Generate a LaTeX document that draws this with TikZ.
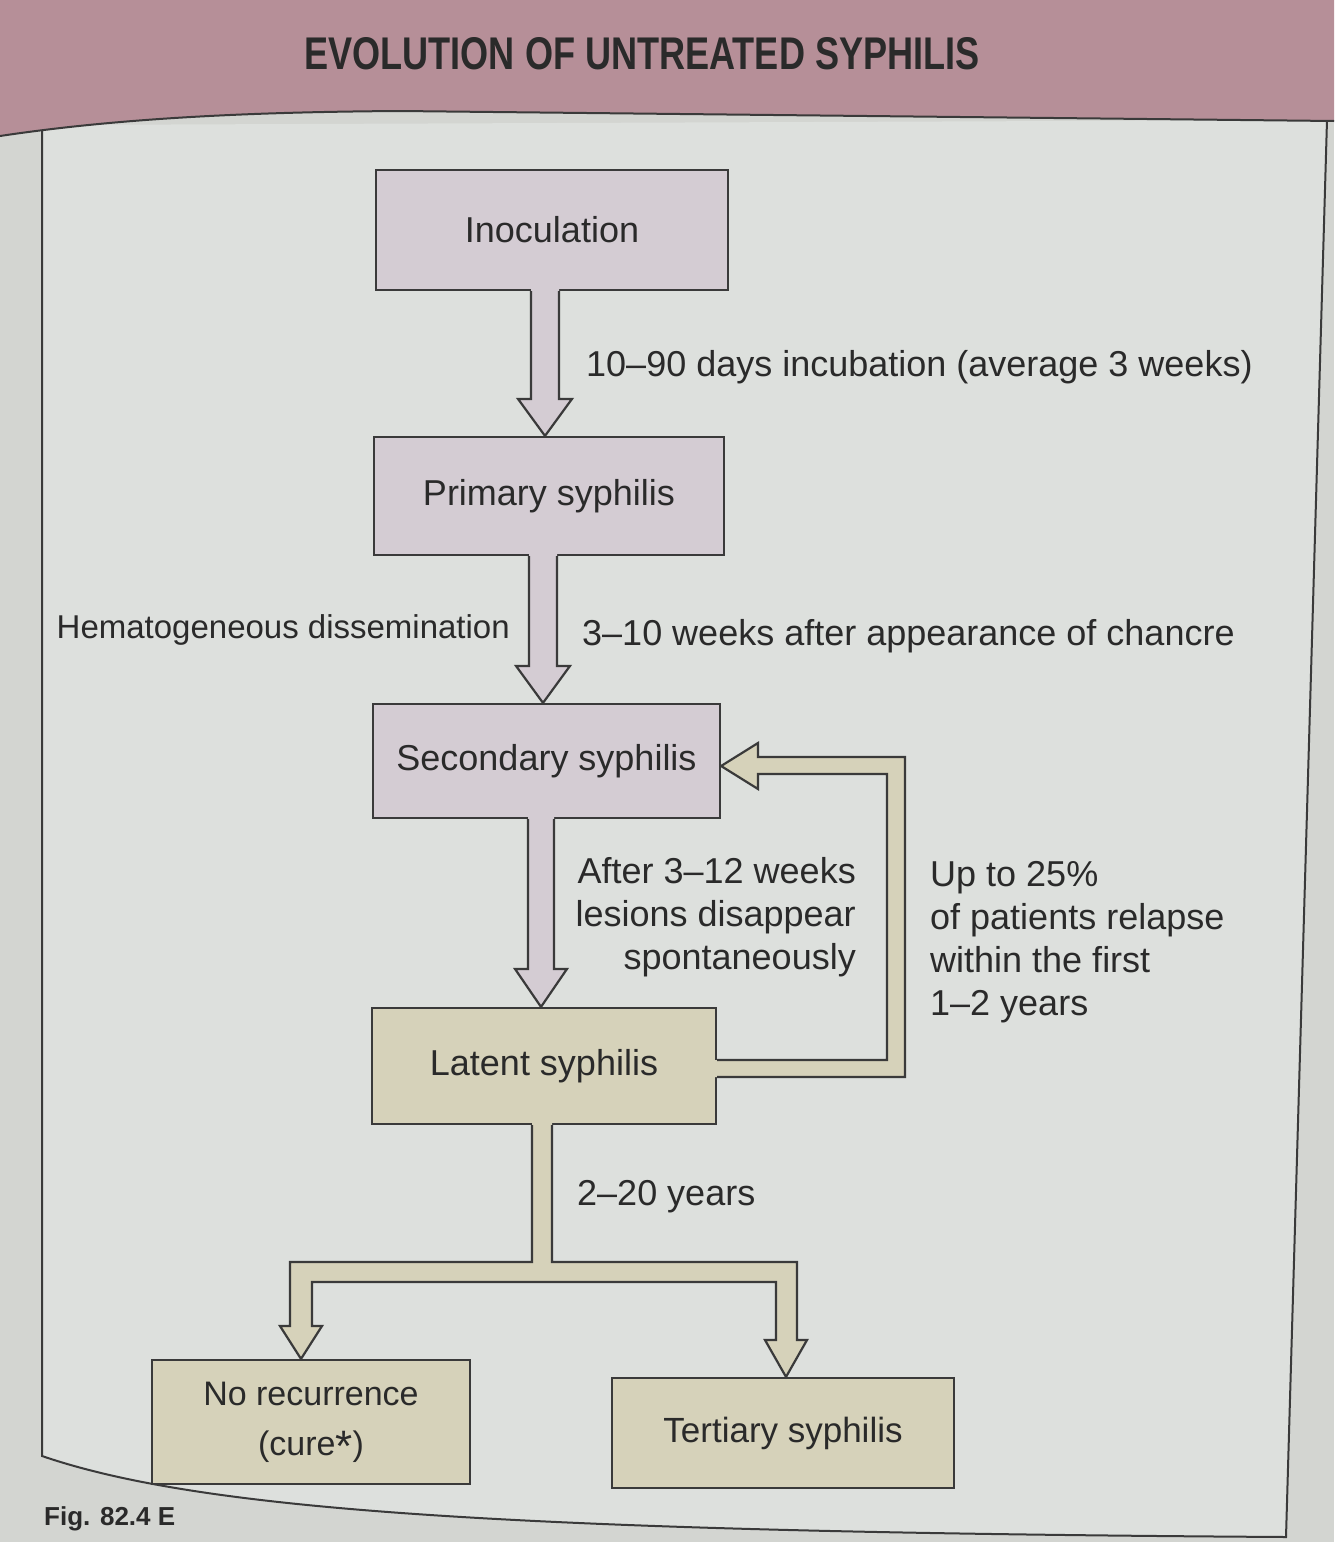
\documentclass[tikz,border=0pt]{standalone}
\usepackage{fontspec}
\setmainfont{Liberation Sans}
\usepackage{graphicx}
\usetikzlibrary{calc}
\definecolor{bg}{HTML}{DDE0DD}
\definecolor{pageout}{HTML}{D3D5D1}
\definecolor{band}{HTML}{B68F98}
\definecolor{lilac}{HTML}{D4CCD3}
\definecolor{khaki}{HTML}{D6D2BA}
\definecolor{ink}{HTML}{2A2A2A}
\definecolor{edge}{HTML}{3A3A3A}
% #1 source node, #2 target node, #3 x centre, #4 half shaft, #5 half head, #6 head length, #7 fill
\newcommand\BlockDown[7]{%
  \fill[#7] let \p1=(#1.south), \p2=(#2.north) in
    ({#3pt-#4pt},{\y1+3pt}) -- ({#3pt-#4pt},{\y2+#6pt}) -- ({#3pt-#5pt},{\y2+#6pt}) --
    (#3pt,\y2) -- ({#3pt+#5pt},{\y2+#6pt}) -- ({#3pt+#4pt},{\y2+#6pt}) -- ({#3pt+#4pt},{\y1+3pt}) -- cycle;
  \draw[arrline] let \p1=(#1.south), \p2=(#2.north) in
    ({#3pt-#4pt},\y1) -- ({#3pt-#4pt},{\y2+#6pt}) -- ({#3pt-#5pt},{\y2+#6pt}) --
    (#3pt,\y2) -- ({#3pt+#5pt},{\y2+#6pt}) -- ({#3pt+#4pt},{\y2+#6pt}) -- ({#3pt+#4pt},\y1);
}
\begin{document}
\begin{tikzpicture}[x=1pt,y=-1pt,
  box/.style={draw=edge,line width=2.2pt,inner sep=0pt,align=center,text=ink,font=\fontsize{36}{43}\selectfont},
  lbl/.style={text=ink,inner sep=0pt,font=\fontsize{36}{43}\selectfont},
  arrline/.style={draw=edge,line width=2.2pt,line join=miter}]
\useasboundingbox (0,0) rectangle (1334,1542);
\fill[pageout] (0,0) rectangle (1334,1542);
% panel
\fill[bg] (42,125) -- (42,1456) .. controls (200,1510) and (500,1532) .. (1286,1537) -- (1327,120) -- cycle;
\draw[edge,line width=2pt] (42,125) -- (42,1456) .. controls (200,1510) and (500,1532) .. (1286,1537) -- (1327,120);
% header band
\fill[band] (0,0) -- (1334,0) -- (1334,121) -- (400,111) .. controls (250,112) and (120,118) .. (0,136) -- cycle;
\draw[edge,line width=2pt] (1334,121) -- (400,111) .. controls (250,112) and (120,118) .. (0,136);
\node[inner sep=0pt,text=ink] (title) at (642,54) {\resizebox{675pt}{32pt}{\bfseries EVOLUTION OF UNTREATED SYPHILIS}};

% boxes
\node[box,fill=lilac,minimum width=352pt,minimum height=120pt] (inoc) at (552,230) {Inoculation};
\node[box,fill=lilac,minimum width=350pt,minimum height=118pt] (prim) at (549,496) {Primary syphilis};
\node[box,fill=lilac,minimum width=347pt,minimum height=114pt] (sec) at (546.5,761) {Secondary syphilis};
\node[box,fill=khaki,minimum width=344pt,minimum height=116pt] (lat) at (544,1066) {Latent syphilis};
\node[box,fill=khaki,minimum width=318pt,minimum height=124pt,font=\fontsize{34}{50}\selectfont] (nore) at (311,1422) {No recurrence\\(cure{\fontsize{44}{44}\selectfont\raisebox{-6pt}{*}})};
\node[box,fill=khaki,minimum width=342pt,minimum height=110pt,font=\fontsize{35}{43}\selectfont] (tert) at (783,1433) {Tertiary syphilis};

% straight block arrows
\BlockDown{inoc}{prim}{545}{14}{27}{37}{lilac}
\BlockDown{prim}{sec}{543}{14}{27}{37}{lilac}
\BlockDown{sec}{lat}{541}{13}{26}{38}{lilac}

% relapse loop
\coordinate (ly1) at (0,1060);
\coordinate (ly2) at (0,1077);
\coordinate (tipy) at (0,766);
\fill[khaki] (712,1060) -- (887,1060) -- (887,774) -- (758,774) -- (758,789) -- (sec.east |- tipy)
  -- (758,743) -- (758,757) -- (905,757) -- (905,1077) -- (712,1077) -- cycle;
\draw[arrline] (lat.east |- ly1) -- (887,1060) -- (887,774) -- (758,774) -- (758,789) -- (sec.east |- tipy)
  -- (758,743) -- (758,757) -- (905,757) -- (905,1077) -- (lat.east |- ly2);

% branch to the two outcomes
\coordinate (bx1) at (532,0);
\coordinate (bx2) at (552,0);
\coordinate (lx) at (301,0);
\coordinate (rx) at (786,0);
\fill[khaki] (532,1120) -- (532,1262) -- (290,1262) -- (290,1326) -- (280,1326) -- (lx |- nore.north)
  -- (322,1326) -- (312,1326) -- (312,1282) -- (776,1282) -- (776,1340) -- (765,1340) -- (rx |- tert.north)
  -- (807,1340) -- (797,1340) -- (797,1262) -- (552,1262) -- (552,1120) -- cycle;
\draw[arrline] (bx1 |- lat.south) -- (532,1262) -- (290,1262) -- (290,1326) -- (280,1326) -- (lx |- nore.north)
  -- (322,1326) -- (312,1326) -- (312,1282) -- (776,1282) -- (776,1340) -- (765,1340) -- (rx |- tert.north)
  -- (807,1340) -- (797,1340) -- (797,1262) -- (552,1262) -- (bx2 |- lat.south);

% labels
\node[lbl,anchor=west] (incub) at (586,367) {10–90 days incubation (average 3 weeks)};
\node[lbl,anchor=east,font=\fontsize{33}{40}\selectfont] (hema) at (510,630) {Hematogeneous dissemination};
\node[lbl,anchor=west] (after) at (582,636) {3–10 weeks after appearance of chancre};
\node[lbl,anchor=east,align=right] (lesion) at (856,917) {After 3–12 weeks\\lesions disappear\\spontaneously};
\node[lbl,anchor=west,align=left] (relapse) at (930,942) {Up to 25\%\\of patients relapse\\within the first\\1–2 years};
\node[lbl,anchor=west] (yrs) at (577,1197) {2–20 years};

% caption fragment
\node[text=ink,inner sep=0pt,font=\bfseries\fontsize{26}{26}\selectfont,anchor=north west] (fig) at (44,1506) {Fig. 82.4 E};
\end{tikzpicture}
\end{document}
